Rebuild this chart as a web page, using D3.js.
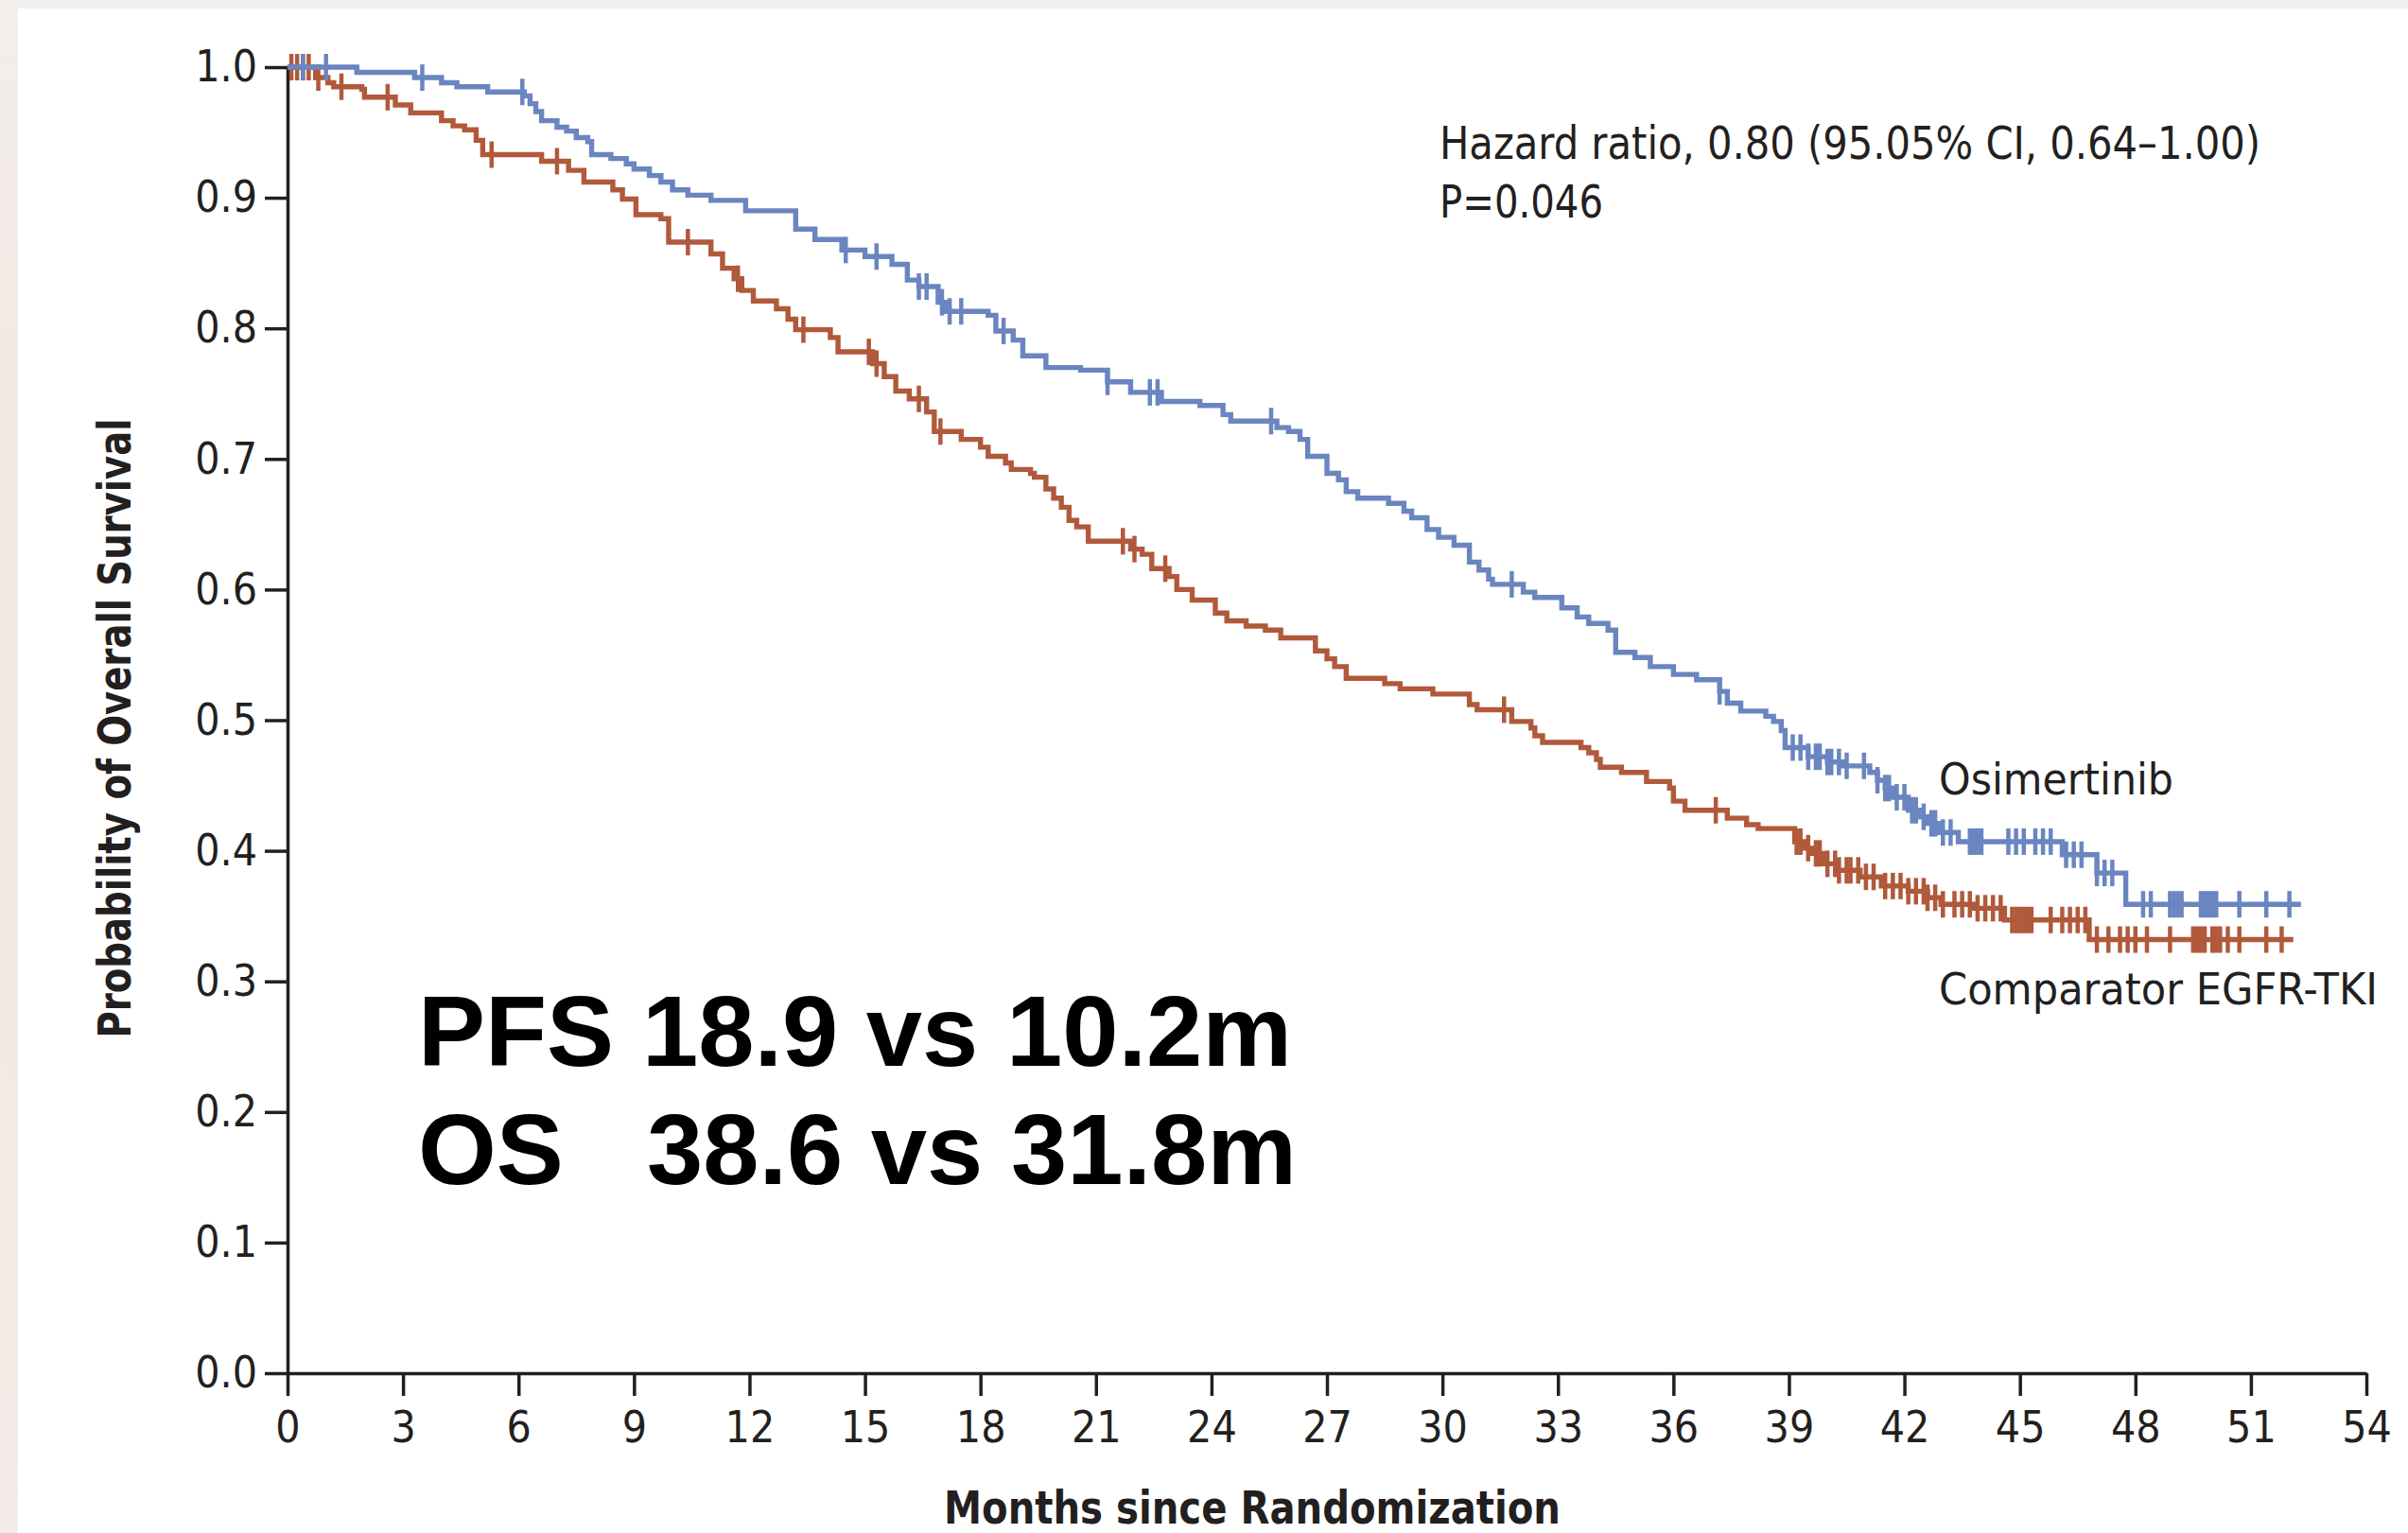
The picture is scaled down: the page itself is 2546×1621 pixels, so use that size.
<!DOCTYPE html>
<html>
<head>
<meta charset="utf-8">
<script src="https://cdn.jsdelivr.net/npm/d3@7"></script>
<style>
  html, body { margin: 0; padding: 0; background: #ffffff; }
  svg { display: block; }
</style>
</head>
<body>
<svg id="chart" width="2546" height="1621"></svg>
<script>
// ---- Axis ticks ----
const xTickValues = [0, 3, 6, 9, 12, 15, 18, 21, 24, 27, 30, 33, 36, 39, 42, 45, 48, 51, 54];
const yTickValues = [0.0, 0.1, 0.2, 0.3, 0.4, 0.5, 0.6, 0.7, 0.8, 0.9, 1.0];

// ---- Osimertinib: Kaplan-Meier steps (month of drop, survival after drop) ----
const osiTimes = [0, 1.8, 3.3, 4.0, 4.4, 5.2, 6.15, 6.3, 6.45, 6.6, 7.0, 7.25, 7.5, 7.8, 7.9, 8.4, 8.8, 9.0, 9.4, 9.7,
  10.0, 10.4, 11.0, 11.9, 13.2, 13.7, 14.4, 15.0, 15.7, 16.1, 16.4, 16.9, 17.1, 18.2, 18.4, 18.85, 19.1, 19.7, 20.6,
  21.3, 21.9, 22.7, 23.7, 24.3, 24.5, 25.7, 26.0, 26.3, 26.5, 27.0, 27.3, 27.5, 27.8, 28.6, 29.0, 29.2, 29.6, 29.9,
  30.3, 30.7, 30.95, 31.2, 31.3, 32.1, 32.4, 33.1, 33.5, 33.8, 34.3, 34.5, 35.0, 35.4, 36.0, 36.6, 37.2, 37.4, 37.75,
  38.4, 38.6, 38.8, 38.9, 39.5, 40.0, 40.4, 41.1, 41.3, 41.5, 41.7, 42.1, 42.4, 42.6, 42.9, 43.4, 46.1, 47.0, 47.75];
const osiSurv = [1.000, 0.996, 0.992, 0.988, 0.985, 0.981, 0.978, 0.972, 0.966, 0.959, 0.954, 0.951, 0.946, 0.943, 0.933,
  0.930, 0.926, 0.922, 0.917, 0.912, 0.906, 0.902, 0.898, 0.890, 0.876, 0.868, 0.860, 0.855, 0.849, 0.837, 0.832, 0.820,
  0.813, 0.810, 0.798, 0.791, 0.779, 0.770, 0.768, 0.759, 0.751, 0.744, 0.741, 0.734, 0.729, 0.724, 0.721, 0.715, 0.702,
  0.689, 0.684, 0.675, 0.670, 0.666, 0.660, 0.655, 0.646, 0.640, 0.634, 0.621, 0.615, 0.608, 0.604, 0.598, 0.594, 0.586,
  0.579, 0.574, 0.569, 0.552, 0.548, 0.541, 0.535, 0.531, 0.522, 0.513, 0.507, 0.503, 0.499, 0.492, 0.479, 0.472, 0.468,
  0.465, 0.460, 0.454, 0.448, 0.441, 0.431, 0.426, 0.421, 0.414, 0.407, 0.397, 0.383, 0.359];
const osiEnd = 52.3;
const osiCensor = [0.4, 1.0, 3.5, 6.1, 14.5, 15.3, 16.4, 16.6, 17.0, 17.2, 17.5, 18.6, 21.3, 22.4, 22.6, 25.55, 31.8, 37.2,
  39.1, 39.3, 39.5, 39.7, 39.8, 40.0, 40.1, 40.3, 40.5, 40.95, 41.3, 41.5, 41.6, 41.8, 42.0, 42.2, 42.3, 42.5, 42.7, 42.8,
  43.0, 43.2, 43.7, 43.8, 43.9, 44.0, 44.7, 44.9, 45.1, 45.4, 45.6, 45.8, 46.2, 46.4, 46.6, 47.0, 47.2, 47.4, 48.2, 48.4,
  48.9, 49.0, 49.1, 49.2, 49.7, 49.8, 49.9, 50.0, 50.1, 50.7, 51.4, 52.0];

// ---- Comparator EGFR-TKI: Kaplan-Meier steps ----
const cmpTimes = [0, 0.73, 1.05, 1.2, 1.93, 2.0, 2.8, 3.2, 4.0, 4.3, 4.6, 4.9, 5.07, 6.6, 7.3, 7.7, 8.45, 8.7, 9.05, 9.7,
  9.9, 11.0, 11.3, 11.6, 11.8, 12.1, 12.7, 13.0, 13.2, 14.1, 14.3, 15.2, 15.5, 15.8, 16.15, 16.6, 16.8, 17.5, 18.0, 18.2,
  18.65, 18.8, 19.3, 19.4, 19.7, 19.9, 20.1, 20.3, 20.5, 20.8, 21.9, 22.2, 22.45, 22.9, 23.1, 23.5, 24.1, 24.4, 24.9,
  25.4, 25.8, 26.7, 27.0, 27.2, 27.5, 28.5, 28.9, 29.75, 30.7, 30.9, 31.8, 32.3, 32.4, 32.6, 33.6, 33.8, 34.0, 34.1,
  34.65, 35.3, 35.9, 36.0, 36.3, 37.4, 37.9, 38.2, 39.15, 39.4, 39.6, 39.9, 40.25, 40.85, 41.4, 42.1, 42.6, 42.95,
  43.8, 44.6, 46.8];
const cmpSurv = [1.000, 0.992, 0.988, 0.985, 0.983, 0.977, 0.971, 0.965, 0.959, 0.955, 0.952, 0.944, 0.933, 0.928, 0.921,
  0.912, 0.906, 0.899, 0.887, 0.884, 0.866, 0.857, 0.846, 0.838, 0.829, 0.821, 0.815, 0.807, 0.799, 0.793, 0.782, 0.773,
  0.763, 0.752, 0.746, 0.736, 0.721, 0.715, 0.709, 0.702, 0.697, 0.692, 0.689, 0.686, 0.677, 0.670, 0.663, 0.653, 0.648,
  0.637, 0.631, 0.627, 0.616, 0.610, 0.600, 0.592, 0.582, 0.576, 0.572, 0.569, 0.563, 0.553, 0.547, 0.541, 0.532, 0.528,
  0.524, 0.520, 0.512, 0.508, 0.499, 0.494, 0.488, 0.483, 0.479, 0.475, 0.470, 0.464, 0.460, 0.453, 0.448, 0.438, 0.431,
  0.425, 0.420, 0.417, 0.407, 0.402, 0.398, 0.390, 0.385, 0.380, 0.373, 0.369, 0.364, 0.359, 0.356, 0.347, 0.332];
const cmpEnd = 52.1;
const cmpCensor = [0.1, 0.25, 0.4, 0.55, 0.8, 1.4, 2.6, 5.3, 7.0, 10.4, 11.7, 13.4, 15.1, 15.3, 16.4, 16.96, 21.7, 22.0,
  22.8, 31.6, 37.1, 39.2, 39.3, 39.5, 39.7, 39.8, 40.0, 40.2, 40.3, 40.5, 40.6, 40.8, 41.0, 41.2, 41.5, 41.7, 41.9, 42.1,
  42.3, 42.5, 42.6, 42.8, 43.0, 43.3, 43.5, 43.7, 43.9, 44.1, 44.3, 44.5, 44.8, 44.9, 45.0, 45.1, 45.2, 45.3, 45.8, 46.1,
  46.3, 46.5, 46.7, 47.0, 47.3, 47.6, 47.8, 48.0, 48.3, 48.9, 49.5, 49.6, 49.7, 49.8, 50.0, 50.1, 50.2, 50.4, 50.7,
  51.4, 51.8];

// ---- Colours and fonts ----
const osiColor = "#6a85c0";
const cmpColor = "#b1593b";
const inkColor = "#231f20";
const narrowFont = "'Liberation Sans Narrow', 'Arial Narrow', 'DejaVu Sans Condensed', sans-serif";

const W = 2546, H = 1621;
const svg = d3.select("#chart");

// page backdrop with the pale frame on the top and left edges
const defs = svg.append("defs");
const edgeGrad = defs.append("linearGradient").attr("id", "edgeGrad")
  .attr("x1", 0).attr("y1", 0).attr("x2", 0).attr("y2", 1);
edgeGrad.append("stop").attr("offset", "0%").attr("stop-color", "#f2eeec");
edgeGrad.append("stop").attr("offset", "30%").attr("stop-color", "#f4e8e2");
edgeGrad.append("stop").attr("offset", "100%").attr("stop-color", "#f3ebe7");
svg.append("rect").attr("x", 0).attr("y", 0).attr("width", W).attr("height", H).attr("fill", "#ffffff");
svg.append("rect").attr("x", 0).attr("y", 0).attr("width", W).attr("height", 9).attr("fill", "#f1eeed");
svg.append("rect").attr("x", 0).attr("y", 0).attr("width", 19).attr("height", H).attr("fill", "url(#edgeGrad)");

// ---- Scales ----
const x = d3.scaleLinear().domain([0, 54]).range([304, 2502]);
const y = d3.scaleLinear().domain([0, 1]).range([1452, 71]);

// ---- Axes ----
const yAxis = d3.axisLeft(y)
  .tickValues(yTickValues)
  .tickFormat(d3.format(".1f"))
  .tickSize(24).tickSizeOuter(0).tickPadding(8);
const xAxis = d3.axisBottom(x)
  .tickValues(xTickValues)
  .tickFormat(d3.format("d"))
  .tickSize(24).tickSizeOuter(0).tickPadding(16);

const gy = svg.append("g").attr("transform", `translate(${x(0)},0)`).call(yAxis);
const gx = svg.append("g").attr("transform", `translate(0,${y(0)})`).call(xAxis);
[gx, gy].forEach(g => {
  g.selectAll("path.domain").attr("stroke", inkColor).attr("stroke-width", 3.5);
  g.selectAll(".tick line").attr("stroke", inkColor).attr("stroke-width", 3.5);
  g.selectAll(".tick text")
    .attr("fill", inkColor)
    .style("font-family", narrowFont)
    .style("font-size", "46px");
});

// axis titles
svg.append("text")
  .attr("x", 1324).attr("y", 1611)
  .attr("text-anchor", "middle")
  .attr("textLength", 652).attr("lengthAdjust", "spacingAndGlyphs")
  .style("font-family", narrowFont).style("font-weight", "bold").style("font-size", "48px")
  .attr("fill", inkColor)
  .text("Months since Randomization");
svg.append("text")
  .attr("transform", "translate(138,770) rotate(-90)")
  .attr("text-anchor", "middle")
  .attr("textLength", 655).attr("lengthAdjust", "spacingAndGlyphs")
  .style("font-family", narrowFont).style("font-weight", "bold").style("font-size", "48px")
  .attr("fill", inkColor)
  .text("Probability of Overall Survival");

// ---- Survival curves ----
const stepLine = d3.line()
  .x(d => x(d[0])).y(d => y(d[1]))
  .curve(d3.curveStepAfter);

function curvePoints(times, surv, end) {
  const pts = times.map((t, i) => [t, surv[i]]);
  pts.push([end, surv[surv.length - 1]]);
  return pts;
}
function survivalAt(times, surv, t) {
  const i = d3.bisectRight(times, t) - 1;
  return surv[Math.max(0, i)];
}

const arms = [
  { times: cmpTimes, surv: cmpSurv, end: cmpEnd, censor: cmpCensor, color: cmpColor },
  { times: osiTimes, surv: osiSurv, end: osiEnd, censor: osiCensor, color: osiColor }
];

arms.forEach(arm => {
  const g = svg.append("g");
  g.append("path")
    .datum(curvePoints(arm.times, arm.surv, arm.end))
    .attr("d", stepLine)
    .attr("fill", "none")
    .attr("stroke", arm.color)
    .attr("stroke-width", 5.4)
    .attr("stroke-linejoin", "miter");
  // censoring marks: short vertical strokes across the curve
  g.selectAll("line.censor")
    .data(arm.censor)
    .join("line")
    .attr("class", "censor")
    .attr("x1", d => x(d)).attr("x2", d => x(d))
    .attr("y1", d => y(survivalAt(arm.times, arm.surv, d)) - 14)
    .attr("y2", d => y(survivalAt(arm.times, arm.surv, d)) + 14)
    .attr("stroke", arm.color)
    .attr("stroke-width", 4.5);
});

// ---- Annotations ----
function label(txt, xPos, yPos, size, width) {
  return svg.append("text")
    .attr("x", xPos).attr("y", yPos)
    .attr("textLength", width).attr("lengthAdjust", "spacingAndGlyphs")
    .style("font-family", narrowFont).style("font-size", size)
    .attr("fill", inkColor)
    .text(txt);
}
label("Hazard ratio, 0.80 (95.05% CI, 0.64\u20131.00)", 1522, 168, "48px", 868);
label("P=0.046", 1522, 230, "48px", 173);
label("Osimertinib", 2050, 840, "47px", 248);
label("Comparator EGFR-TKI", 2050, 1062, "47px", 464);

// headline efficacy summary
const bigFont = "'Liberation Sans', Arial, Helvetica, sans-serif";
const summary = svg.append("g")
  .style("font-family", bigFont).style("font-weight", "bold").style("font-size", "106.5px")
  .attr("fill", "#000000");
const pfsLine = summary.append("text").attr("y", 1127);
pfsLine.append("tspan").attr("x", 442).text("PFS");
pfsLine.append("tspan").attr("x", 679).text("18.9 vs 10.2m");
const osLine = summary.append("text").attr("y", 1252);
osLine.append("tspan").attr("x", 442).text("OS");
osLine.append("tspan").attr("x", 684).text("38.6 vs 31.8m");
</script>
</body>
</html>
